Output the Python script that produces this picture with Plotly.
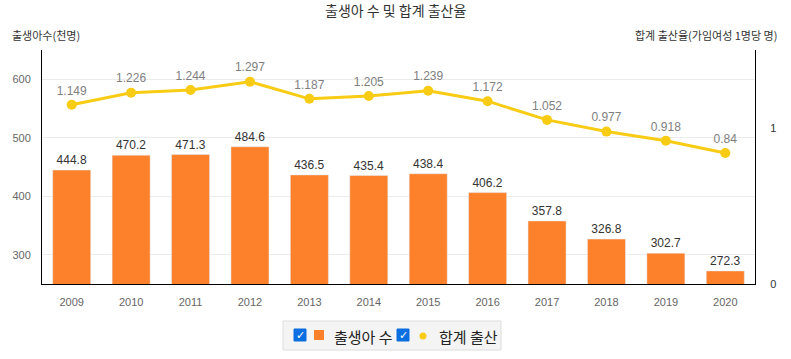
import plotly.graph_objects as go

years = ["2009", "2010", "2011", "2012", "2013", "2014", "2015", "2016", "2017", "2018", "2019", "2020"]
births = [444.8, 470.2, 471.3, 484.6, 436.5, 435.4, 438.4, 406.2, 357.8, 326.8, 302.7, 272.3]
tfr = [1.149, 1.226, 1.244, 1.297, 1.187, 1.205, 1.239, 1.172, 1.052, 0.977, 0.918, 0.84]
tfr_labels = ["1.149", "1.226", "1.244", "1.297", "1.187", "1.205", "1.239", "1.172", "1.052", "0.977", "0.918", "0.84"]
name_births = "출생아 수"
name_tfr = "합계 출산"

W, H = 791, 359
L, R, T, B = 42, 36, 50, 75
pw, ph = W - L - R, H - T - B

BAR_C = "#fd802b"
LINE_C = "#f8cc14"
FONT = "Liberation Sans, Noto Sans CJK KR, sans-serif"
KFONT = "Noto Sans CJK KR, sans-serif"

fig = go.Figure()
fig.add_trace(go.Bar(
    x=years, y=births, name=name_births, marker_color=BAR_C,
    text=[f"{v}" for v in births], textposition="outside",
    textfont=dict(size=12, color="#333"), cliponaxis=False,
    width=0.64, showlegend=False,
))
fig.add_trace(go.Scatter(
    x=years, y=tfr, name=name_tfr, yaxis="y2", mode="lines+markers+text",
    line=dict(color=LINE_C, width=3), marker=dict(size=10, color=LINE_C),
    text=tfr_labels, textposition="top center",
    textfont=dict(size=12, color="#808080"), cliponaxis=False, showlegend=False,
))

def px_x(px):
    return (px - L) / pw

def px_y(py):
    return (H - B - py) / ph

shapes = [
    dict(type="rect", xref="paper", yref="paper", x0=px_x(283), x1=px_x(501), y0=px_y(350), y1=px_y(321),
         fillcolor="#f4f4f4", line=dict(color="#dddddd", width=1), layer="below"),
    dict(type="rect", xref="paper", yref="paper", x0=px_x(294), x1=px_x(306), y0=px_y(341), y1=px_y(329),
         fillcolor="#0a6fe0", line=dict(color="#0a6fe0", width=1)),
    dict(type="rect", xref="paper", yref="paper", x0=px_x(397), x1=px_x(409), y0=px_y(341), y1=px_y(329),
         fillcolor="#0a6fe0", line=dict(color="#0a6fe0", width=1)),
    dict(type="rect", xref="paper", yref="paper", x0=px_x(314), x1=px_x(324), y0=px_y(340), y1=px_y(330),
         fillcolor=BAR_C, line=dict(width=0)),
    dict(type="circle", xref="paper", yref="paper", x0=px_x(419.5), x1=px_x(426.5), y0=px_y(339.5), y1=px_y(332.5),
         fillcolor=LINE_C, line=dict(width=0)),
]

annotations = [
    dict(text="출생아 수 및 합계 출산율", xref="paper", yref="paper", x=px_x(W / 2), y=px_y(10),
         showarrow=False, font=dict(size=14, color="#333", family=KFONT), xanchor="center", yanchor="middle"),
    dict(text="출생아수(천명)", xref="paper", yref="paper", x=px_x(10), y=px_y(35),
         showarrow=False, font=dict(size=11, color="#333", family=KFONT), xanchor="left", yanchor="middle"),
    dict(text="합계 출산율(가임여성 1명당 명)", xref="paper", yref="paper", x=px_x(779), y=px_y(35),
         showarrow=False, font=dict(size=11, color="#333", family=KFONT), xanchor="right", yanchor="middle"),
    dict(text="<b>✓</b>", xref="paper", yref="paper", x=px_x(300), y=px_y(335),
         showarrow=False, font=dict(size=11, color="white", family="DejaVu Sans"), xanchor="center", yanchor="middle"),
    dict(text="<b>✓</b>", xref="paper", yref="paper", x=px_x(403), y=px_y(335),
         showarrow=False, font=dict(size=11, color="white", family="DejaVu Sans"), xanchor="center", yanchor="middle"),
    dict(text=name_births, xref="paper", yref="paper", x=px_x(332), y=px_y(336),
         showarrow=False, font=dict(size=15, color="#222", family=KFONT), xanchor="left", yanchor="middle"),
    dict(text=name_tfr, xref="paper", yref="paper", x=px_x(437), y=px_y(336),
         showarrow=False, font=dict(size=15, color="#222", family=KFONT), xanchor="left", yanchor="middle"),
]

fig.update_layout(
    width=W, height=H,
    margin=dict(l=L, r=R, t=T, b=B, autoexpand=False),
    paper_bgcolor="white", plot_bgcolor="white",
    font=dict(family=FONT, size=11, color="#666"),
    showlegend=False,
    xaxis=dict(type="category", range=[-0.5, len(years) - 0.5], showline=True, linecolor="#000", linewidth=1,
               showgrid=False, ticks="", tickfont=dict(size=11, color="#666"), ticklabelstandoff=8),
    yaxis=dict(range=[250, 650], tickvals=[300, 400, 500, 600], showline=True, linecolor="#000",
               linewidth=1, gridcolor="#ececec", zeroline=False, tickfont=dict(size=11, color="#666"),
               ticks="", ticklabelstandoff=8),
    yaxis2=dict(range=[0, 1.5], tickvals=[0, 1], overlaying="y", side="right", showline=True,
                linecolor="#000", linewidth=1, showgrid=False, zeroline=False,
                tickfont=dict(size=11, color="#333"), ticks="", ticklabelstandoff=12),
    shapes=shapes, annotations=annotations,
)

fig.write_html("out.html", config={"displayModeBar": False},
               post_script="document.body.style.margin='0';document.body.style.overflow='hidden';")
